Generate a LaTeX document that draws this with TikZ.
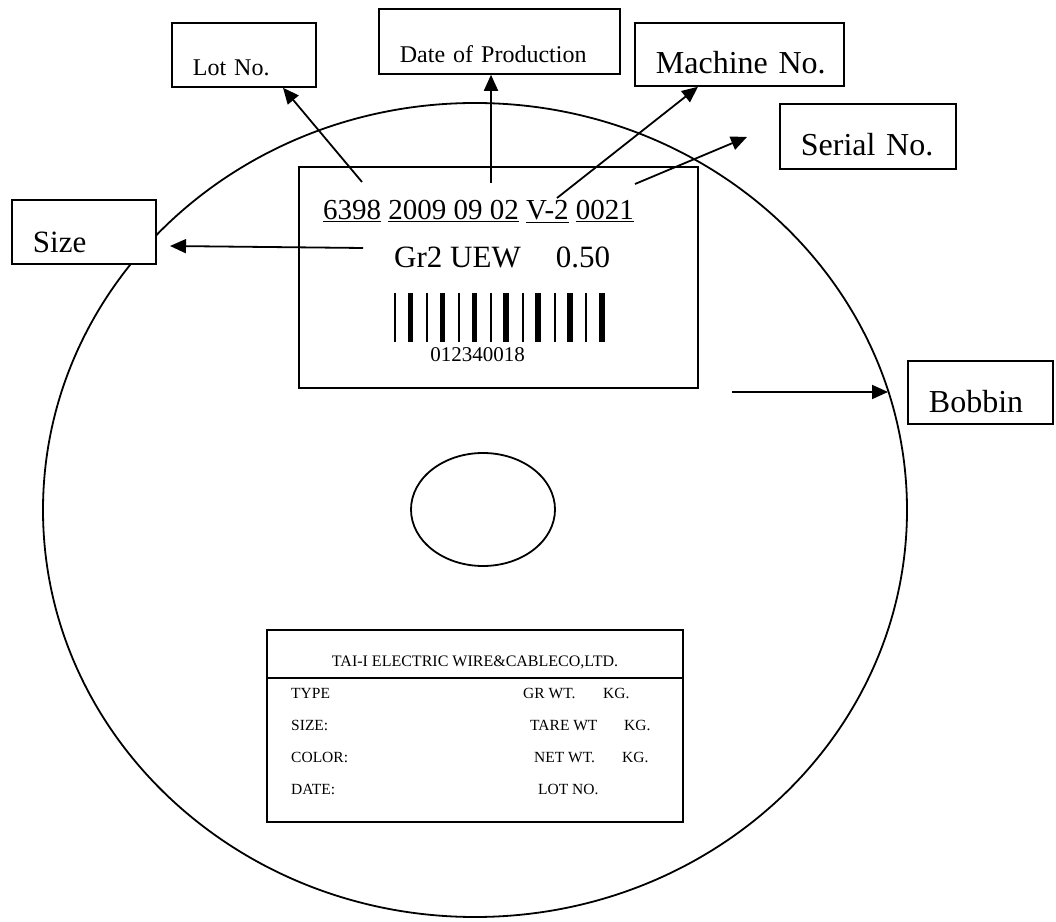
\documentclass[tikz,border=0pt]{standalone}
\usepackage{fontspec}
\setmainfont{Liberation Serif}
\usetikzlibrary{arrows.meta,calc}
\newcommand{\pxfont}[1]{\fontsize{#1}{#1}\selectfont}

\tikzset{
  tag/.style={draw,fill=white,line width=1.8pt,inner xsep=21pt,inner ysep=0pt,align=left,anchor=north west},
  pointer/.style={-{Triangle[length=16pt,width=14pt]},line width=1.8pt},
}

\begin{document}
\begin{tikzpicture}[x=1pt,y=1pt,line width=1.8pt]
  \useasboundingbox (0,0) rectangle (1056,921);

  % bobbin rim and hole
  \draw (475,411) ellipse [x radius=432,y radius=407];
  \draw (483,411.5) ellipse [x radius=72,y radius=56.5];

  % label on the bobbin
  \node[draw,minimum width=399,minimum height=221,inner sep=0pt] (card) at (498.5,643.5) {};
  \node[anchor=base west,font=\pxfont{29}] (code) at (319,701)
    {\underline{6398} \underline{2009 09 02} \underline{V-2} \underline{0021}};
  \node[anchor=base west,font=\pxfont{31}] (grade) at (390,653) {Gr2 UEW\hspace{35pt}0.50};
  \foreach \i in {0,...,6}{
    \fill (395+31.9*\i-1,579) rectangle ++(2,49);
    \fill (410.5+31.9*\i-2.8,579) rectangle ++(5.6,49);
  }
  \node[anchor=base,font=\pxfont{21}] (barno) at (477.5,559) {012340018};

  % call-outs
  \node[tag,text width=102pt,text height=53pt,text depth=11pt,font=\pxfont{24}] (lot) at (171,899) {Lot~No.};
  \node[tag,text width=199pt,text height=54pt,text depth=11pt,font=\pxfont{24}] (date) at (378,913) {Date~of~Production};
  \node[tag,text width=167pt,text height=51pt,text depth=12pt,font=\pxfont{32}] (mach) at (634,899) {Machine~No.};
  \node[tag,text width=134pt,text height=52pt,text depth=13pt,font=\pxfont{32}] (serial) at (779,818) {Serial~No.};
  \node[tag,text width=102pt,text height=53pt,text depth=11pt,font=\pxfont{31}] (size) at (11,722) {Size};
  \node[tag,text width=103pt,text height=52pt,text depth=11pt,font=\pxfont{32}] (bobbin) at (907,561) {Bobbin};

  \coordinate (lotfrom) at (362,739);
  \coordinate (datefrom) at (491,738);
  \coordinate (machfrom) at (557,723);
  \coordinate (serfrom) at (635,737);
  \coordinate (serto) at (747,784);
  \coordinate (sizefrom) at (363,673);
  \coordinate (sizeto) at (170,675);
  \coordinate (bobfrom) at (732,529);
  \coordinate (bobto) at (888,529);

  \draw[pointer] (lotfrom) -- ($(lot.south west)+(112,0)$);
  \draw[pointer] (datefrom) -- (datefrom |- date.south);
  \draw[pointer] (machfrom) -- ($(mach.south west)+(64,0)$);
  \draw[pointer] (serfrom) -- (serto);
  \draw[pointer] (sizefrom) -- (sizeto);
  \draw[pointer] (bobfrom) -- (bobto);

  % maker's form
  \node[draw,minimum width=416,minimum height=192,inner sep=0pt] (form) at (475,195) {};
  \draw (form.west |- 0,243) -- (form.east |- 0,243);
  \node[anchor=base,font=\pxfont{16}] (maker) at (475,255) {TAI-I ELECTRIC WIRE\&CABLECO,LTD.};
  \begin{scope}[every node/.style={anchor=base west,font=\pxfont{15.5}}]
    \node (type) at (287,223) {TYPE};
    \node (sizef) at (287,191) {SIZE:};
    \node (color) at (287,159) {COLOR:};
    \node (datef) at (287,127) {DATE:};
    \node (grwt) at (519,223) {GR WT.};
    \node (grkg) at (599,223) {KG.};
    \node (tare) at (526,191) {TARE WT};
    \node (tarekg) at (620,191) {KG.};
    \node (net) at (530,159) {NET WT.};
    \node (netkg) at (618,159) {KG.};
    \node (lotf) at (534,127) {LOT NO.};
  \end{scope}
\end{tikzpicture}
\end{document}
